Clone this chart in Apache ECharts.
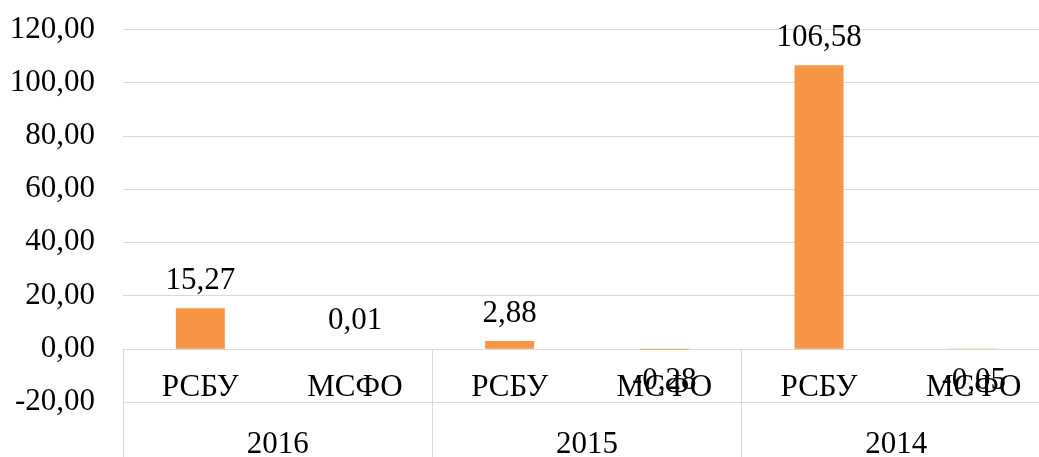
<!DOCTYPE html>
<html>
<head>
<meta charset="utf-8">
<script src="https://cdn.jsdelivr.net/npm/echarts@6/dist/echarts.min.js"></script>
<style>
  html, body { margin: 0; padding: 0; background: #fff; }
  #chart { width: 1039px; height: 457px; }
</style>
</head>
<body>
<div id="chart"></div>
<script>
// Standards within each year, and the years they are grouped under
const standards = ['РСБУ', 'МСФО', 'РСБУ', 'МСФО', 'РСБУ', 'МСФО'];
const years = ['2016', '2015', '2014'];
const values = [15.27, 0.01, 2.88, -0.28, 106.58, -0.05];
const yTicks = { min: -20, max: 120, step: 20 };

const FONT = 'Liberation Serif';
const FS = 31;
const fmt = v => Number(v).toFixed(2).replace('.', ',');
const gridColor = '#d9d9d9';

const GRID_TOP = 29.5, GRID_BOTTOM = 55, H = 457;
const plotH = H - GRID_TOP - GRID_BOTTOM;
// distance from the bottom of the plot (-20) up to the zero line
const zeroLift = plotH * (0 - yTicks.min) / (yTicks.max - yTicks.min);

const chart = echarts.init(document.getElementById('chart'), null, { renderer: 'canvas' });

chart.setOption({
  animation: false,
  backgroundColor: '#fff',
  grid: {
    left: 123, right: -12, top: GRID_TOP, bottom: GRID_BOTTOM,
    containLabel: false, outerBoundsMode: 'none'
  },
  xAxis: [
    {
      // standard row, its line drawn on the zero level
      type: 'category',
      data: standards,
      position: 'bottom',
      offset: -zeroLift,
      axisLine: { onZero: false, lineStyle: { color: gridColor, width: 1 } },
      axisTick: { show: false },
      axisLabel: {
        color: '#000', fontFamily: FONT, fontSize: FS,
        margin: 39, verticalAlign: 'middle', interval: 0
      },
      splitLine: { show: false }
    },
    {
      // year row with the vertical group separators
      type: 'category',
      data: years,
      position: 'bottom',
      offset: GRID_BOTTOM,
      axisLine: { show: false, onZero: false },
      axisTick: { show: true, inside: true, length: GRID_BOTTOM + zeroLift, lineStyle: { color: gridColor, width: 1 } },
      axisLabel: {
        inside: true, color: '#000', fontFamily: FONT, fontSize: FS,
        margin: 12, verticalAlign: 'middle', interval: 0
      },
      splitLine: { show: false }
    }
  ],
  yAxis: {
    type: 'value',
    min: yTicks.min,
    max: yTicks.max,
    interval: yTicks.step,
    axisLine: { show: false },
    axisTick: { show: false },
    axisLabel: { color: '#000', fontFamily: FONT, fontSize: FS, margin: 28, formatter: fmt },
    splitLine: { lineStyle: { color: gridColor, width: 1 } }
  },
  series: [{
    type: 'bar',
    xAxisIndex: 0,
    barWidth: 49,
    itemStyle: { color: '#F79646' },
    data: values.map(v => ({
      value: v,
      label: v < 0 ? { position: 'bottom', distance: 16 } : { position: 'top', distance: 12 }
    })),
    label: {
      show: true,
      color: '#000',
      fontFamily: FONT,
      fontSize: FS,
      formatter: p => fmt(p.value)
    }
  }]
});
</script>
</body>
</html>
